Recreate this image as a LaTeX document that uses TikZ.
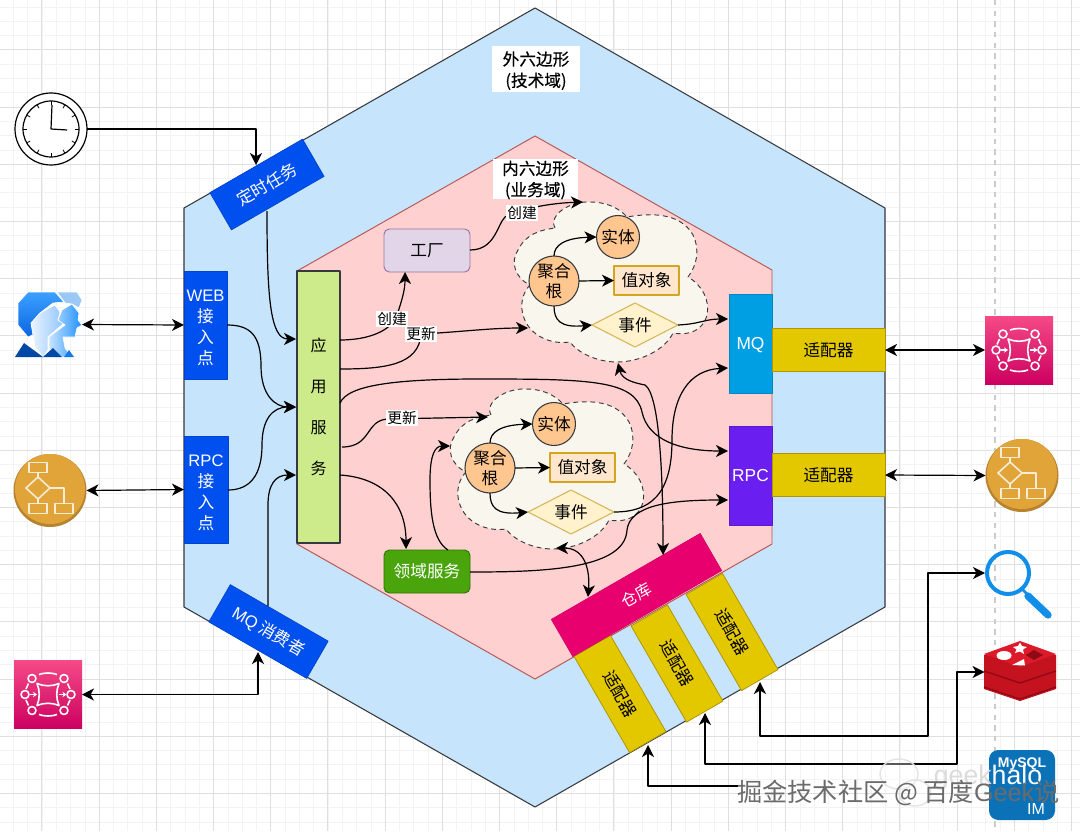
\documentclass[tikz,border=0pt]{standalone}
\usepackage{fontspec}
\usetikzlibrary{arrows.meta,shapes.geometric,calc}
\setmainfont{Noto Sans CJK SC}
\newfontfamily\lat{Liberation Sans}
\newfontfamily\medf[FakeBold=0.35]{Noto Sans CJK SC}
\newdimen\pxu \pxu=0.75pt
\definecolor{gridmin}{HTML}{F3F3F3}
\definecolor{gridmaj}{HTML}{DFDFDF}
\definecolor{hexout}{HTML}{C6E4FC}
\definecolor{hexin}{HTML}{FFD0D0}
\definecolor{strk}{HTML}{36393D}
\definecolor{inred}{HTML}{B85450}
\definecolor{bluebox}{HTML}{0050EF}
\definecolor{appgreen}{HTML}{CDEB8B}
\definecolor{fac}{HTML}{E1D5E7}
\definecolor{facs}{HTML}{9673A6}
\definecolor{domg}{HTML}{4AA50C}
\definecolor{doms}{HTML}{2D7600}
\definecolor{cloudf}{HTML}{F9F7ED}
\definecolor{orangec}{HTML}{FFC68F}
\definecolor{voF}{HTML}{FFE6CC}
\definecolor{voS}{HTML}{D6A520}
\definecolor{evF}{HTML}{FFF2CC}
\definecolor{evS}{HTML}{D6B656}
\definecolor{mqb}{HTML}{009FE3}
\definecolor{rpcb}{HTML}{6A1FF0}
\definecolor{adp}{HTML}{E3C800}
\definecolor{adps}{HTML}{B09500}
\definecolor{repo}{HTML}{E8006F}
\definecolor{flowa}{HTML}{E0A439}
\definecolor{flowb}{HTML}{B8832F}
\definecolor{flowl}{HTML}{F7ECD6}
\definecolor{pinkt}{HTML}{F54A87}
\definecolor{pinkb}{HTML}{CC0060}
\definecolor{searchb}{HTML}{108EE9}
\definecolor{rtop}{HTML}{DC1A2A}
\definecolor{rside}{HTML}{C4121F}
\definecolor{rseam}{HTML}{8E0A14}
\definecolor{mysqlb}{HTML}{0B72B8}
\definecolor{ua}{HTML}{3CA0FF}
\definecolor{ub}{HTML}{0A66E0}
\definecolor{uc}{HTML}{EAF4FF}
\definecolor{ud}{HTML}{8FC4FF}
\definecolor{ue}{HTML}{C8E4FF}
\definecolor{uf}{HTML}{1E90FF}
\definecolor{ug}{HTML}{9CC8F5}
\definecolor{uh}{HTML}{0048A8}
\tikzset{
  conn/.style={line width=0.9pt,draw=black},
  arr/.style={conn,-{Stealth[length=9pt,width=9pt,inset=2.6pt]}},
  darr/.style={conn,{Stealth[length=9pt,width=9pt,inset=2.6pt]}-{Stealth[length=9pt,width=9pt,inset=2.6pt]}},
  box/.style={rectangle,inner sep=0pt,outer sep=0pt,align=center},
  bluen/.style={box,fill=bluebox,draw=bluebox!85!black,line width=0.5pt,text=white,font=\fontsize{12.5}{15.75}\selectfont},
  adapter/.style={box,fill=adp,draw=adps,line width=0.6pt,text=black,minimum width=113\pxu,minimum height=43\pxu,font=\fontsize{12.5}{15}\selectfont},
  rootn/.style={circle,inner sep=0pt,outer sep=0pt,align=center,fill=orangec,draw=strk,line width=0.8pt,minimum size=50\pxu,font=\fontsize{12.5}{15}\selectfont},
  entn/.style={circle,inner sep=0pt,outer sep=0pt,fill=orangec,draw=strk,line width=0.8pt,minimum size=43\pxu,font=\fontsize{12.5}{15}\selectfont},
  von/.style={box,fill=voF,draw=voS,line width=0.8pt,minimum width=65\pxu,minimum height=29\pxu,font=\fontsize{12.5}{15}\selectfont},
  evn/.style={diamond,aspect=1.95,inner sep=0pt,outer sep=0pt,fill=evF,draw=evS,line width=0.8pt,minimum width=86\pxu,minimum height=44\pxu,font=\fontsize{12.5}{15}\selectfont},
  cloudp/.style={fill=cloudf,draw=strk,line width=0.7pt,dash pattern=on 3.6pt off 2.8pt},
  lbl/.style={fill=white,inner sep=0.8pt,outer sep=0pt,font=\fontsize{11}{13}\selectfont},
  title/.style={fill=white,inner sep=0pt,outer sep=0pt,align=center,font=\medf\fontsize{12.5}{16}\selectfont,minimum height=40\pxu},
  ghost/.style={inner sep=0pt,outer sep=0pt,minimum width=#1\pxu,minimum height=#1\pxu},
  pinkn/.style={box,minimum width=68\pxu,minimum height=68\pxu,top color=pinkt,bottom color=pinkb},
  flown/.style={circle,inner sep=0pt,outer sep=0pt,minimum size=73\pxu,fill=flowb},
  icw/.style={draw=white,line width=1.2pt},
  icf/.style={draw=flowl,line width=1.2pt},
  uline/.style={draw=white,line width=0.5pt},
  mqicon/.pic={
    \foreach \a/\b in {-16/-16,16/-16,-16/16,16/16,-23/0,23/0}{\draw[icw] (\a,\b) circle (4);}
    \draw[icw] (-11,-11) .. controls (-4,-8) and (4,-8) .. (11,-11) .. controls (8,-4) and (8,4) .. (11,11)
       .. controls (4,8) and (-4,8) .. (-11,11) .. controls (-8,4) and (-8,-4) .. (-11,-11) -- cycle;
    \draw[icw,-{Stealth[length=3pt,width=4pt]}] (-18.5,0) -- (-11,0);
    \draw[icw,-{Stealth[length=3pt,width=4pt]}] (11,0) -- (18.5,0);
    \draw[icw] (-9,-20) .. controls (-4,-22) and (4,-22) .. (9,-20);
    \draw[icw] (-9,20) .. controls (-4,22) and (4,22) .. (9,20);
    \draw[icw] (-19.5,-11) -- (-22,-5.5);
    \draw[icw] (19.5,-11) -- (22,-5.5);
    \draw[icw] (-19.5,11) -- (-22,5.5);
    \draw[icw] (19.5,11) -- (22,5.5);
  },
  flowicon/.pic={
    \fill[flowa] (0,-1.5) circle (35);
    \draw[icf] (-21,-28) rectangle (-3,-18);
    \draw[icf] (-12,-13.5) -- (0,-2.5) -- (-12,8.5) -- (-24,-2.5) -- cycle;
    \draw[icf] (-21,13) rectangle (-3,23);
    \draw[icf] (5,13) rectangle (23,23);
    \draw[icf] (-12,-18) -- (-12,-13.5);
    \draw[icf] (-12,8.5) -- (-12,13);
    \draw[icf] (0,-2.5) -- (14,-2.5) -- (14,13);
  }
}
\newcommand{\cloudshape}{(555,228) .. controls (548,215) and (570,201) .. (590,202)
 .. controls (605,202) and (618,207) .. (627,217)
 .. controls (650,213) and (680,212) .. (693,235) .. controls (700,250) and (697,265) .. (688,277)
 .. controls (702,285) and (710,300) .. (707,315) .. controls (703,330) and (690,336) .. (673,333)
 .. controls (665,350) and (640,362) .. (617,362) .. controls (597,362) and (578,353) .. (570,342)
 .. controls (550,345) and (530,335) .. (524,318) .. controls (519,305) and (523,292) .. (530,285)
 .. controls (515,278) and (510,262) .. (518,250) .. controls (526,234) and (540,230) .. (555,228) -- cycle}
\newcommand{\lowertxt}{\rule{0pt}{13.5pt}}
\begin{document}
\begin{tikzpicture}[x=0.75pt,y=-0.75pt,line join=round]
\useasboundingbox (0,0) rectangle (1080,831);
\fill[white] (0,0) rectangle (1080,831);
% grid
\foreach \i in {0,...,76}{\draw[gridmin,line width=0.5pt] ({13.4+14.3*\i},0) -- ({13.4+14.3*\i},831);}
\foreach \i in {0,...,58}{\draw[gridmin,line width=0.5pt] (0,{6.9+14.3*\i}) -- (1080,{6.9+14.3*\i});}
\foreach \i in {0,...,18}{\draw[gridmaj,line width=0.6pt] ({41.7+57.2*\i},0) -- ({41.7+57.2*\i},831);}
\foreach \i in {0,...,14}{\draw[gridmaj,line width=0.6pt] (0,{49.8+57.2*\i}) -- (1080,{49.8+57.2*\i});}
\draw[gray!40,line width=0.9pt,dash pattern=on 4pt off 4pt] (995,0) -- (995,831);
% hexagons
\draw[fill=hexout,draw=strk,line width=0.8pt] (535,8) -- (885,208) -- (885,607) -- (535,807) -- (184,607) -- (184,208) -- cycle;
\draw[fill=hexin,draw=inred,line width=0.7pt] (535,136) -- (772,270) -- (772,544) -- (535,679) -- (297,544) -- (297,271) -- cycle;
\node[title,minimum width=88\pxu,minimum height=46\pxu] (outt) at (536,69) {\rule{0pt}{13pt}外六边形\\(技术域)};
\node[title,minimum width=85\pxu] (innt) at (535.5,179) {\rule{0pt}{12pt}内六边形\\(业务域)};
% clouds
\path[cloudp] \cloudshape;
\begin{scope}[shift={(-64,187)}]
\path[cloudp] \cloudshape;
\end{scope}
% named connector ends
\coordinate (cronin) at (256,165);
\coordinate (cronout) at (267,211);
\coordinate (appc) at (296,339);
\coordinate (appi) at (296,407);
\coordinate (appm) at (296,475);
\coordinate (appo1) at (340,340);
\coordinate (appo2) at (340,369);
\coordinate (appo3) at (340,403);
\coordinate (appo4) at (342,447);
\coordinate (appo5) at (340,475);
\coordinate (webo) at (227,325);
\coordinate (rpco) at (228,490);
\coordinate (consout) at (268,606);
\coordinate (consin) at (258,652);
\coordinate (factin) at (405,272);
\coordinate (facto) at (470,250);
\coordinate (domin) at (406,549);
\coordinate (domo1) at (448,550);
\coordinate (domo2) at (470,572);
\coordinate (cl1a) at (528,328);
\coordinate (cl1b) at (583,202);
\coordinate (cl1c) at (618,363);
\coordinate (cl2a) at (488,417);
\coordinate (cl2b) at (450,446);
\coordinate (cl2c) at (556,548);
\coordinate (mqa) at (728,319);
\coordinate (mqc) at (728,368);
\coordinate (rpca) at (728,451);
\coordinate (rpcc) at (728,500);
\coordinate (repoa) at (663,555);
\coordinate (repob) at (588,597);
\coordinate (ad1in) at (648,745);
\coordinate (ad2in) at (705,713);
\coordinate (ad3in) at (760,682);
\coordinate (ad1end) at (738,786);
% left and top nodes
\node[bluen,rotate=30,minimum width=107\pxu,minimum height=43\pxu] (cron) at (267,184.5) {定时任务};
\node[bluen,rotate=-30,minimum width=113\pxu,minimum height=43\pxu] (cons) at (268.5,631.5) {{\lat MQ} 消费者};
\node[bluen,minimum width=43\pxu,minimum height=108\pxu] (web) at (205.5,325) {\lowertxt{\lat WEB}\\接\\入\\点};
\node[bluen,minimum width=44\pxu,minimum height=107\pxu] (rpcin) at (206,489.5) {\lowertxt{\lat RPC}\\接\\入\\点};
\node[box,fill=appgreen,draw=strk,line width=0.8pt,minimum width=43\pxu,minimum height=272\pxu,font=\fontsize{12}{30.9}\selectfont] (app) at (318.5,407) {应\\用\\服\\务};
\node[box,fill=fac,draw=facs,line width=0.7pt,rounded corners=4pt,minimum width=86\pxu,minimum height=43\pxu,font=\fontsize{12.5}{15}\selectfont] (fact) at (427,250.5) {工厂};
\node[box,fill=domg,draw=doms,line width=0.7pt,rounded corners=4pt,text=white,minimum width=86\pxu,minimum height=43\pxu,font=\fontsize{12.5}{15}\selectfont] (dom) at (427,571.5) {领域服务};
% cloud 1
\node[rootn] (root1) at (554,281) {聚合\\根};
\node[entn] (ent1) at (618,237) {实体};
\node[von] (vo1) at (646.5,280.5) {值对象};
\node[evn] (ev1) at (635,325) {事件};
% cloud 2
\node[rootn] (root2) at (490,468) {聚合\\根};
\node[entn] (ent2) at (554,424) {实体};
\node[von] (vo2) at (582.5,467.5) {值对象};
\node[evn] (ev2) at (571,512) {事件};
% right nodes
\node[box,fill=mqb,draw=mqb!85!black,line width=0.5pt,text=white,minimum width=43\pxu,minimum height=99\pxu,text height=8.9pt,text depth=0pt,font=\lat\fontsize{13}{15}\selectfont] (mq) at (750.5,343.5) {MQ};
\node[box,fill=rpcb,draw=rpcb!85!black,line width=0.5pt,text=white,minimum width=43\pxu,minimum height=99\pxu,text height=8.9pt,text depth=0pt,font=\lat\fontsize{13}{15}\selectfont] (rpc) at (750.5,475.5) {RPC};
\node[adapter] (adm) at (828.5,350) {适配器};
\node[adapter] (adr) at (828.5,475) {适配器};
% repository
\node[adapter,rotate=-60,minimum width=111\pxu,minimum height=42\pxu] (ad1) at (620,694) {适配器};
\node[adapter,rotate=-60,minimum width=111\pxu,minimum height=42\pxu] (ad2) at (677,663.5) {适配器};
\node[adapter,rotate=-60,minimum width=111\pxu,minimum height=42\pxu] (ad3) at (732,632) {适配器};
\node[box,rotate=30,fill=repo,draw=repo!90!black,line width=0.4pt,text=white,minimum width=172\pxu,minimum height=43\pxu,font=\fontsize{12}{14}\selectfont] (repo) at (636.5,595) {仓库};
% icons
\node[circle,inner sep=0pt,outer sep=0pt,draw=black,fill=white,line width=0.9pt,minimum size=72\pxu] (clock) at (51,129) {};
\draw[line width=0.9pt] (clock.center) circle (28);
\foreach \a in {0,30,...,330}{\draw[line width=0.6pt] ($(clock.center)+(\a:28)$) -- ($(clock.center)+(\a:24)$);}
\draw[line width=0.9pt] (52,105) -- (clock.center) -- (67,130);
\node[ghost=66] (user) at (49,324.5) {};
\path[uline,fill=ug] (57,292) -- (77,292) -- (82,300) -- (79,308) -- (72,304) -- (65,303) -- cycle;
\path[uline,top color=ua,bottom color=ub] (28,292) -- (55,292) -- (64,302) -- (53,303) -- (40,313) -- (32,323) -- (37,333) -- (28,337) -- (18,325) -- (18,303) -- cycle;
\path[uline,left color=uc,right color=ud] (55,305) -- (60,312) -- (58,320) -- (64,323) -- (48,337) -- (48,350) -- (43,357) -- (35,347) -- (33,335) -- (31,323) -- (40,313) -- cycle;
\path[uline,left color=ue,right color=uf] (62,310) -- (72,304) -- (79,313) -- (78,320) -- (82,325) -- (77,328) -- (75,337) -- (63,337) -- (65,348) -- (72,357) -- (55,357) -- (49,348) -- (49,337) -- (65,325) -- (58,320) -- cycle;
\fill[uh] (15,357) -- (24,343) -- (43,357) -- cycle;
\fill[uh] (43,357) -- (53,348) -- (62,357) -- cycle;
\fill[uf!70!uh] (64,357) -- (69,350) -- (74,357) -- cycle;
\node[flown] (flowL) at (50,490.5) {};
\pic at (flowL) {flowicon};
\node[pinkn] (mqL) at (48,694.5) {};
\pic at (mqL) {mqicon};
\node[pinkn] (mqR) at (1019,350) {};
\pic at (mqR) {mqicon};
\node[flown] (flowR) at (1022,475.5) {};
\pic at (flowR) {flowicon};
% search
\node[circle,inner sep=0pt,draw=searchb,line width=3pt,minimum size=42\pxu] (search) at (1008,573) {};
\draw[searchb,line width=2pt] (1022,589) -- (1030,597);
\draw[searchb,line width=5.5pt,line cap=round] (1028,596) -- (1048,615);
% redis
\node[ghost=60,minimum width=71\pxu] (redis) at (1020,672) {};
\fill[rside] (984,655) -- (1020,643) -- (1056,655) -- (1056,689) -- (1020,701) -- (984,689) -- cycle;
\foreach \s in {16,32}{\draw[rseam,line width=1pt] (984,655+\s) -- (1020,667+\s) -- (1056,655+\s);}
\fill[rtop] (1020,641) -- (1056,654) -- (1020,667) -- (984,654) -- cycle;
\fill[white] (1004,655.5) ellipse (7.5 and 4.5);
\fill[white] (1020,642.5) -- (1022,646) -- (1027,647) -- (1023,649.5) -- (1024,654) -- (1020,651.5) -- (1015,653) -- (1016.5,649.5) -- (1013,647) -- (1018,646) -- cycle;
\fill[white] (1024,659) -- (1012,665) -- (1025,665.5) -- cycle;
\fill[rseam] (1034,650) -- (1043,655) -- (1034,660) -- (1026,655) -- cycle;
% mysql
\node[box,fill=mysqlb,rounded corners=7pt,minimum width=66\pxu,minimum height=70\pxu] (mysql) at (1022,785) {};
\node[text=white,inner sep=0pt,font=\lat\bfseries\fontsize{10.5}{12}\selectfont] (mysqlt) at (1022,764) {MySQL};
\node[text=white,inner sep=0pt,font=\lat\fontsize{12}{14}\selectfont] (mysqlm) at (1036,809) {IM};
% connectors
\draw[arr] (clock.east) -| (cronin);
\draw[arr] (cronout) .. controls +(0,85) and +(-26,0) .. (appc);
\draw[darr] (user.east) -- (web.west);
\draw[darr] (flowL.east) -- (rpcin.west);
\draw[darr] (mqL.east) -| (consin);
\draw[arr] (webo) .. controls (250,325) and (261,335) .. (261,366) .. controls (261,395) and (275,407) .. (appi);
\draw[arr] (rpco) .. controls (250,490) and (262,475) .. (262,445) .. controls (262,420) and (272,407) .. (appi);
\draw[arr] (consout) -- (268,505) .. controls (268,485) and (275,475) .. (appm);
\draw[arr] (appo1) .. controls (370,340) and (392,330) .. (397,315) .. controls (402,300) and (405,290) .. (factin);
\node[lbl] (l1) at (392,319) {创建};
\draw[arr] (appo2) .. controls (385,369) and (419,365) .. (421,334) .. controls (460,332) and (490,328) .. (cl1a);
\node[lbl] (l2) at (421,334) {更新};
\draw[arr] (facto) .. controls (495,250) and (497,225) .. (505,217) .. controls (525,207) and (555,203) .. (cl1b);
\node[lbl] (l3) at (522,213) {创建};
\draw[arr] (appo3) .. controls (348,385) and (395,379) .. (480,379) .. controls (590,379) and (635,380) .. (642,412) .. controls (648,440) and (680,451) .. (rpca);
\draw[arr] (appo4) .. controls (372,447) and (365,420) .. (388,419) -- (cl2a);
\node[lbl] (l4) at (402,418) {更新};
\draw[arr] (appo5) .. controls (385,478) and (406,505) .. (domin);
\draw[arr] (domo1) .. controls (432,540) and (430,510) .. (430,480) .. controls (430,455) and (435,446) .. (cl2b);
\draw[arr] (domo2) .. controls (540,572) and (625,570) .. (627,530) .. controls (630,505) and (670,500) .. (rpcc);
\draw[arr] (ev2.east) .. controls (650,512) and (672,495) .. (672,440) .. controls (672,395) and (690,370) .. (mqc);
\draw[arr] (ev1.east) .. controls (700,324) and (705,319) .. (mqa);
\draw[darr] (cl1c) .. controls (622,380) and (635,383) .. (645,385) .. controls (660,395) and (663,480) .. (repoa);
\draw[darr] (cl2c) .. controls (585,548) and (590,570) .. (repob);
\draw[arr] (root1.north) .. controls (554,245) and (565,238) .. (ent1.west);
\draw[arr] (root1.east) -- (vo1.west);
\draw[arr] (root1.south) .. controls (554,320) and (560,328) .. (ev1.west);
\draw[arr] (root2.north) .. controls (490,432) and (501,425) .. (ent2.west);
\draw[arr] (root2.east) -- (vo2.west);
\draw[arr] (root2.south) .. controls (490,507) and (496,515) .. (ev2.west);
\draw[darr] (adm.east) -- (mqR.west);
\draw[darr] (adr.east) -- (flowR.west);
\draw[darr] (ad3in) |- (928,736) |- (search.west);
\draw[darr] (ad2in) |- (957,764) |- (redis.west);
\draw[arr] (ad1end) -| (ad1in);
% watermark
\draw[gray!22,line width=1pt,fill=white,fill opacity=0.35] (899,774) ellipse (19 and 15);
\draw[gray!22,line width=1pt,fill=white,fill opacity=0.35] (915,793) ellipse (16 and 13);
\node[inner sep=0pt,font=\lat\fontsize{20}{24}\selectfont] (wm2) at (988,778) {\textcolor{gray!28}{geek}\textcolor{white}{halo}};
\node[text=black!58,inner sep=0pt,anchor=west,font=\fontsize{18.9}{22}\selectfont] (wm1) at (737,793) {掘金技术社区 @ 百度{\lat Geek}说};
\end{tikzpicture}
\end{document}
